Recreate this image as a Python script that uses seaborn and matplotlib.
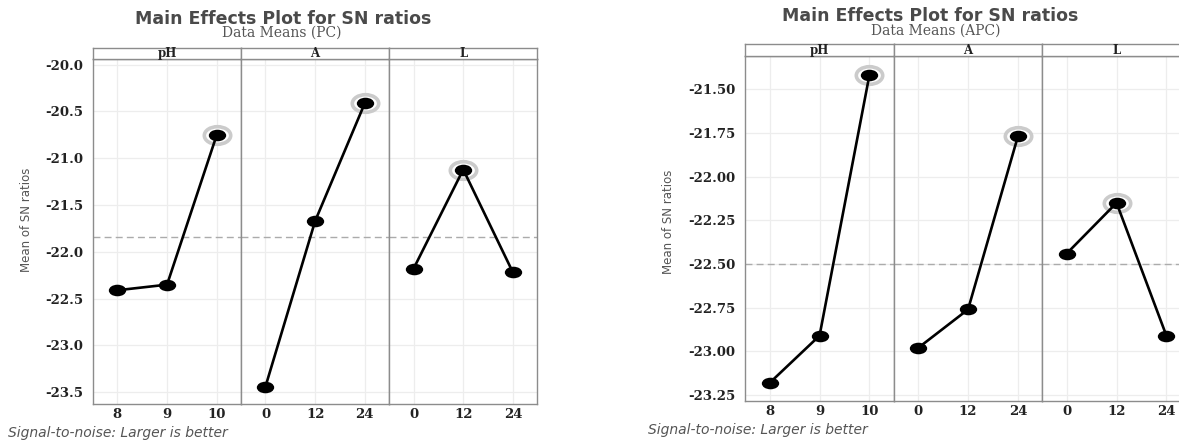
import numpy as np
import pandas as pd
import matplotlib
matplotlib.use("Agg")
import matplotlib.pyplot as plt
from matplotlib.path import Path
from matplotlib.transforms import Affine2D
import seaborn as sns

# 因子与水平
factors = ["pH", "A", "L"]
ph_levels = ["8", "9", "10"]
a_levels = ["0", "12", "24"]
l_levels = ["0", "12", "24"]

# SN 比均值 (PC)
pc_ph = [-22.41, -22.35, -20.75]
pc_a = [-23.44, -21.67, -20.41]
pc_l = [-22.18, -21.12, -22.22]

# SN 比均值 (APC)
apc_ph = [-23.18, -22.91, -21.42]
apc_a = [-22.98, -22.76, -21.77]
apc_l = [-22.44, -22.15, -22.91]

pc_yticks = [-20.0, -20.5, -21.0, -21.5, -22.0, -22.5, -23.0, -23.5]
apc_yticks = [-21.50, -21.75, -22.00, -22.25, -22.50, -22.75, -23.00, -23.25]

W, H = 1179, 441
GRAY = "#8c8c8c"

sns.set_style("white")
plt.rcParams["font.family"] = ["DejaVu Sans"]

# 椭圆点 (原图横向拉伸)
ellipse = Affine2D().scale(1.5, 1.0).transform_path(Path.unit_circle())


def rect(x0, y0, x1, y1):
    """像素坐标 -> figure 坐标"""
    return [x0 / W, 1 - y1 / H, (x1 - x0) / W, (y1 - y0) / H]


def build_frame(values):
    rows = []
    for fac, lv, vals in zip(factors, [ph_levels, a_levels, l_levels], values):
        for l, v in zip(lv, vals):
            rows.append({"factor": fac, "level": l, "sn": v})
    return pd.DataFrame(rows)


def draw_chart(fig, values, yticks, fmt, box, ylim, title_xy, sub_xy, title, subtitle,
               ylab_xy, foot_xy):
    df = build_frame(values)
    grand_mean = df["sn"].mean()
    x0, top, strip_bot, bottom, pw = box

    for i, fac in enumerate(factors):
        left = x0 + i * pw
        ax = fig.add_axes(rect(left, strip_bot, left + pw, bottom))
        sub = df[df["factor"] == fac]

        # 先画折线, 保证类别顺序
        sns.lineplot(data=sub, x="level", y="sn", ax=ax, sort=False,
                     color="black", lw=1.9, marker=ellipse, markersize=12.5,
                     markerfacecolor="black", markeredgecolor="black",
                     markeredgewidth=0, zorder=3)

        ax.axhline(grand_mean, color="#ababab", lw=1.0, ls=(0, (5, 3)), zorder=1)

        # 最大值外圈
        best = sub.loc[sub["sn"].idxmax()]
        ax.plot([best["level"]], [best["sn"]], marker=ellipse, markersize=19,
                markerfacecolor="white", markeredgecolor="#cbcbcb",
                markeredgewidth=2.6, ls="none", zorder=2)

        ax.set_xlim(-0.49, 2.49)
        ax.set_ylim(*ylim)
        ax.set_yticks(yticks)
        ax.set_yticklabels([fmt.format(t) for t in yticks])
        ax.set_xlabel("")
        ax.set_ylabel("")
        ax.grid(True, color="#ededed", lw=0.9)
        ax.tick_params(length=0, labelsize=9.5, pad=3)
        ax.tick_params(axis="y", pad=7)
        for lab in ax.get_xticklabels() + ax.get_yticklabels():
            lab.set_fontfamily("DejaVu Serif")
            lab.set_fontweight("bold")
            lab.set_color("#222222")
        if i > 0:
            ax.tick_params(labelleft=False)
        for s in ax.spines.values():
            s.set_color(GRAY)
            s.set_linewidth(1.0)

        # 顶部分面标签
        sax = fig.add_axes(rect(left, top, left + pw, strip_bot))
        sax.set_xticks([])
        sax.set_yticks([])
        for s in sax.spines.values():
            s.set_color(GRAY)
            s.set_linewidth(1.0)
        sax.text(0.5, 0.45, fac, ha="center", va="center", transform=sax.transAxes,
                 family="DejaVu Serif", fontweight="bold", fontsize=8.5,
                 color="#222222")

    fig.text(title_xy[0] / W, 1 - title_xy[1] / H, title, ha="center",
             va="center", fontsize=12.5, fontweight="bold", color="#4a4a4a")
    fig.text(sub_xy[0] / W, 1 - sub_xy[1] / H, subtitle, ha="center",
             va="center", fontsize=10, family="DejaVu Serif", color="#555555")
    fig.text(ylab_xy[0] / W, 1 - ylab_xy[1] / H, "Mean of SN ratios",
             ha="center", va="center", rotation=90, fontsize=8.5,
             family=["Liberation Sans Narrow", "DejaVu Sans Condensed", "DejaVu Sans"],
             color="#555555")
    fig.text(foot_xy[0] / W, 1 - foot_xy[1] / H, "Signal-to-noise: Larger is better",
             ha="left", va="center", fontsize=10, style="italic", color="#555555")


fig = plt.figure(figsize=(W / 100, H / 100), dpi=100)

draw_chart(fig, [pc_ph, pc_a, pc_l], pc_yticks, "{:.1f}",
           (93, 47.7, 58.7, 403.7, 148.1), (-23.622, -19.936),
           (283, 19), (282, 33), "Main Effects Plot for SN ratios", "Data Means (PC)",
           (27, 220), (8, 433))

draw_chart(fig, [apc_ph, apc_a, apc_l], apc_yticks, "{:.2f}",
           (745.3, 44.3, 55.7, 401, 148.5), (-23.284, -21.308),
           (930, 16), (936, 31), "Main Effects Plot for SN ratios", "Data Means (APC)",
           (668, 222), (648, 430))

fig.savefig("out.png", dpi=100, facecolor="white")
